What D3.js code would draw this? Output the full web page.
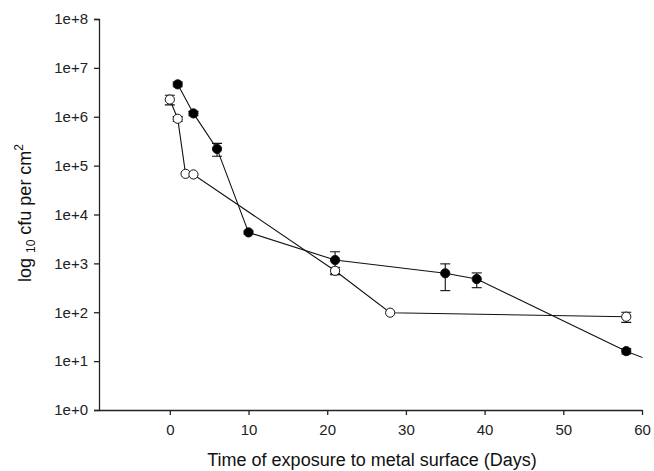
<!DOCTYPE html>
<html>
<head>
<meta charset="utf-8">
<script src="https://cdn.jsdelivr.net/npm/d3@7"></script>
<style>
  body { margin: 0; background: #fff; }
  text { font-family: "Liberation Sans", Arial, sans-serif; fill: #111; }
</style>
</head>
<body>
<div id="viz"></div>
<script>
// days and cfu values
var filledDays = [1, 3, 6, 10, 21, 35, 39, 58, 62];
var filledCfu  = [4.6e6, 1.17e6, 2.2e5, 4.3e3, 1170, 627, 478, 16, 8.9];
var filledErr  = [0.5e6, 0.12e6, 0.65e5, 300, 560, 350, 160, 2, 0];

var openDays = [0, 1, 2, 3, 21, 28, 58];
var openCfu  = [2.25e6, 9.1e5, 6.8e4, 6.6e4, 705, 98, 81];
var openErr  = [0.5e6, 0.1e6, 0, 0, 120, 0, 19];

var xTicks = [0, 10, 20, 30, 40, 50, 60];
var yTicks = [1, 10, 100, 1e3, 1e4, 1e5, 1e6, 1e7, 1e8];

var svg = d3.select("#viz")
    .append("svg")
    .attr("width", 654)
    .attr("height", 471);

var x = d3.scaleLinear().domain([-9, 60]).range([99, 642]);
var y = d3.scaleLog().domain([1, 1e8]).range([410, 19]);

// clip so the last segment stops at the axis end, like the original
svg.append("clipPath").attr("id", "plot")
    .append("rect")
    .attr("x", 99).attr("y", 10)
    .attr("width", 543.5).attr("height", 402);

svg.append("g")
    .attr("transform", "translate(99,0)")
    .call(d3.axisLeft(y).tickValues(yTicks).tickSize(5).tickPadding(6)
        .tickFormat(function(d){ return "1e+" + Math.round(Math.log10(d)); }));

svg.append("g")
    .attr("transform", "translate(0,410)")
    .call(d3.axisBottom(x).tickValues(xTicks).tickSize(5).tickPadding(9).tickSizeOuter(0));

svg.selectAll(".domain, .tick line")
    .attr("stroke", "#222")
    .attr("stroke-width", 1.3);
svg.selectAll(".tick text")
    .style("font-size", "15px")
    .style("fill", "#222");

function series(days, vals, errs, fill) {
    var pts = days.map(function(d, i){ return {day: d, v: vals[i], e: errs[i]}; });
    var g = svg.append("g").attr("clip-path", "url(#plot)");

    g.append("path")
        .datum(pts)
        .attr("fill", "none")
        .attr("stroke", "#111")
        .attr("stroke-width", 1.1)
        .attr("d", d3.line()
            .x(function(d){ return x(d.day); })
            .y(function(d){ return y(d.v); }));

    var eb = g.selectAll(".eb").data(pts.filter(function(d){ return d.e > 0; }))
        .enter().append("g");
    eb.append("line")
        .attr("x1", function(d){ return x(d.day); })
        .attr("x2", function(d){ return x(d.day); })
        .attr("y1", function(d){ return y(d.v + d.e); })
        .attr("y2", function(d){ return y(Math.max(d.v - d.e, 1)); })
        .attr("stroke", "#111").attr("stroke-width", 1.1);
    [1, -1].forEach(function(s){
        eb.append("line")
            .attr("x1", function(d){ return x(d.day) - 5; })
            .attr("x2", function(d){ return x(d.day) + 5; })
            .attr("y1", function(d){ return y(d.v + s * d.e); })
            .attr("y2", function(d){ return y(d.v + s * d.e); })
            .attr("stroke", "#111").attr("stroke-width", 1.1);
    });

    g.selectAll("circle").data(pts)
        .enter().append("circle")
        .attr("cx", function(d){ return x(d.day); })
        .attr("cy", function(d){ return y(d.v); })
        .attr("r", 4.6)
        .attr("fill", fill)
        .attr("stroke", "#111")
        .attr("stroke-width", 1);
}

series(filledDays, filledCfu, filledErr, "#000");
series(openDays, openCfu, openErr, "#fff");

// axis titles
svg.append("text")
    .attr("x", 372).attr("y", 466)
    .attr("text-anchor", "middle")
    .style("font-size", "18px")
    .text("Time of exposure to metal surface (Days)");

var yt = svg.append("text")
    .attr("transform", "translate(31,213) rotate(-90)")
    .attr("text-anchor", "middle")
    .style("font-size", "18px");
yt.append("tspan").text("log ");
yt.append("tspan").attr("dy", 4).style("font-size", "12px").text("10");
yt.append("tspan").attr("dy", -4).text(" cfu per cm");
yt.append("tspan").attr("dy", -8).style("font-size", "12px").text("2");
</script>
</body>
</html>
